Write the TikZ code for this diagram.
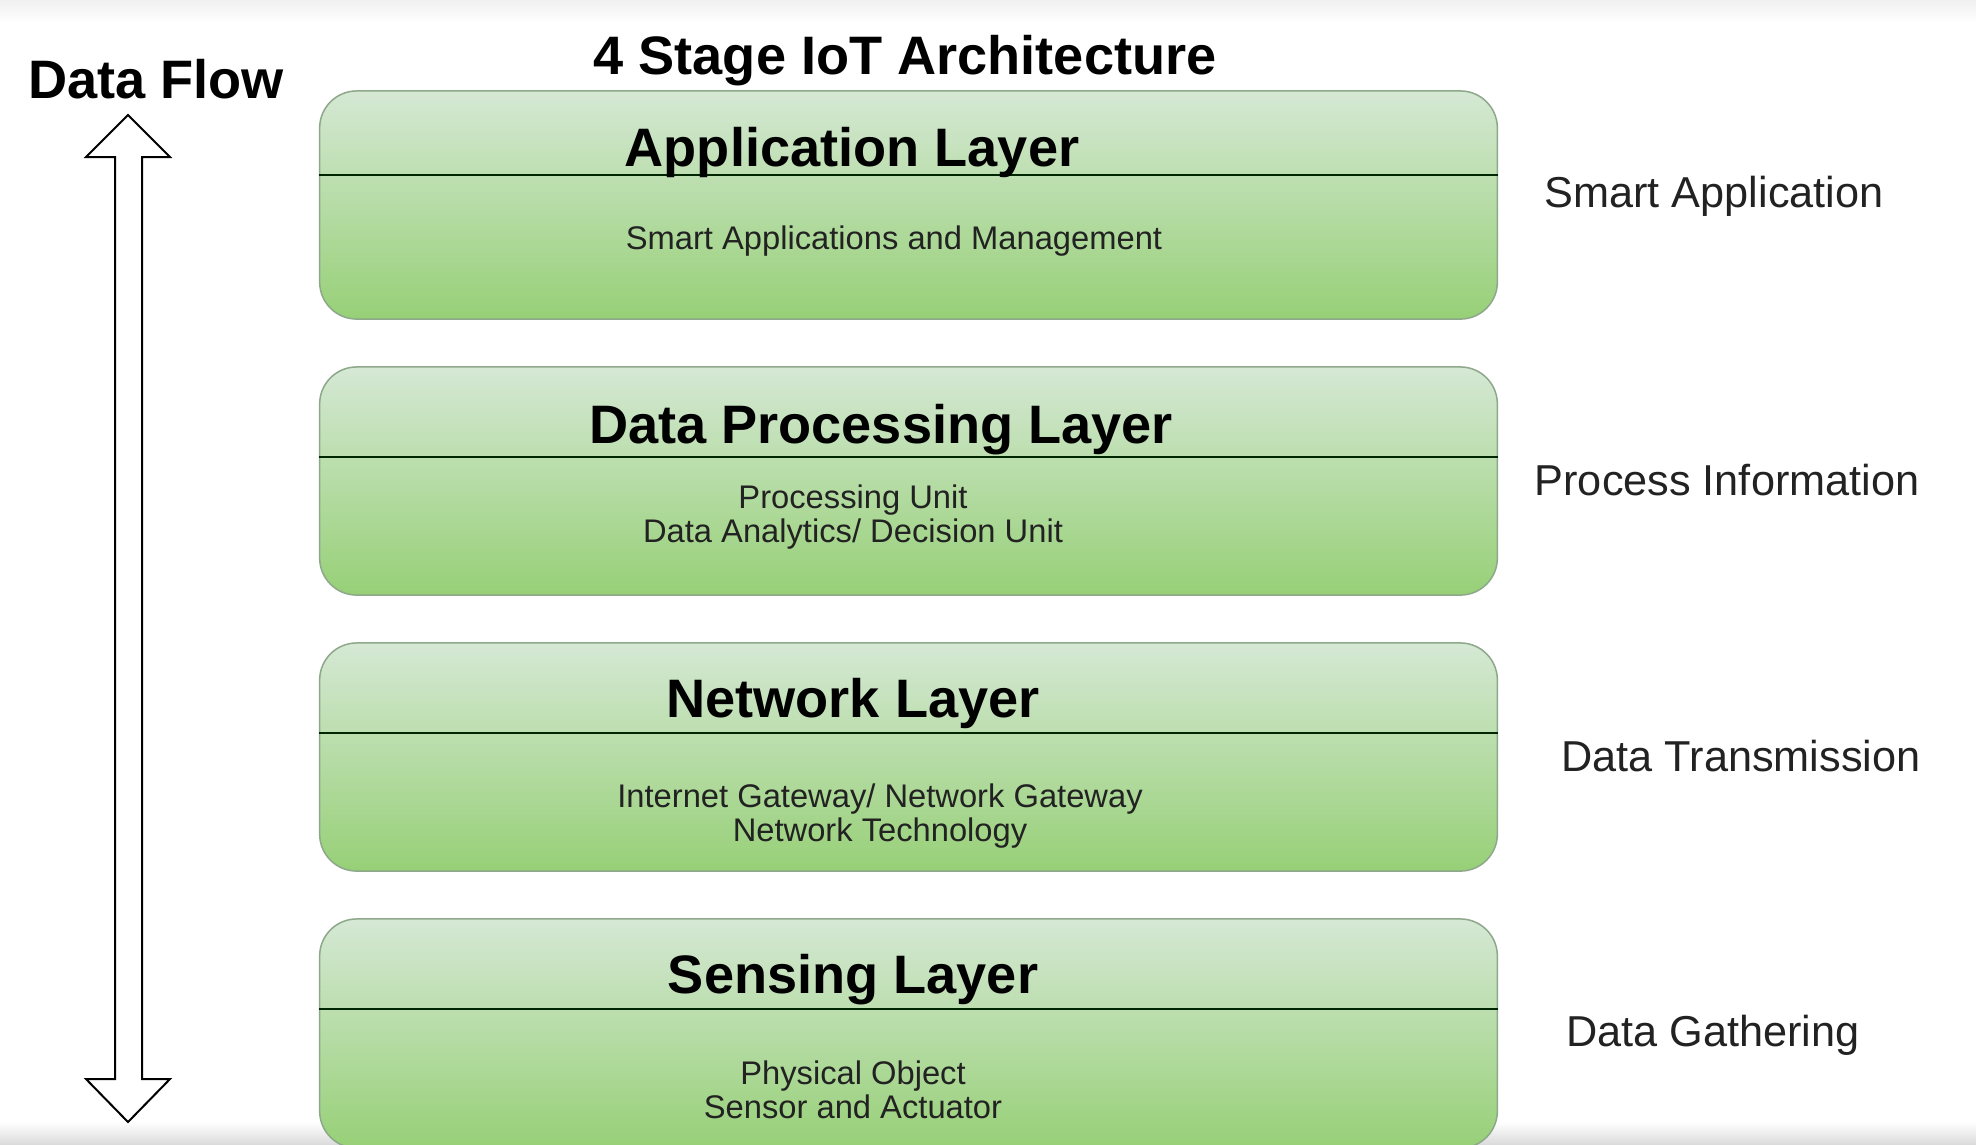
\documentclass[tikz,border=0pt]{standalone}
\usepackage{fontspec}
\setmainfont{Liberation Sans}
\definecolor{layertop}{HTML}{D5E8D4}
\definecolor{layerbot}{HTML}{97D077}
\definecolor{layerline}{HTML}{8DA88A}
\definecolor{labeltext}{HTML}{222222}
\tikzset{
    layerbox/.style={rectangle, rounded corners=0.37cm, draw=layerline, line width=0.015cm,
        top color=layertop, bottom color=layerbot, minimum width=11.77cm, minimum height=2.28cm, inner sep=0pt},
    layername/.style={anchor=base, font=\fontsize{15.4}{18}\selectfont\bfseries},
    layertext/.style={align=center, text=labeltext, font=\fontsize{9.3}{9.7}\selectfont},
    stagelabel/.style={anchor=base, text=labeltext, font=\fontsize{12.3}{14}\selectfont},
    divider/.style={line width=0.022cm, draw=black!85!green},
    flowarrow/.style={draw=black, fill=white, line width=0.02cm, line join=miter}
}
\begin{document}
\begin{tikzpicture}[x=0.01cm, y=-0.01cm]
        \useasboundingbox (0,0) rectangle (1976,1144);
        % draw the background
        \fill[white] (0,0) rectangle (1976,1144);
        \shade[top color=black!6, bottom color=white] (0,0) rectangle (1976,22);
        \shade[top color=white, bottom color=black!14] (0,1122) rectangle (1976,1144);
        % draw the titles
        \node[layername] (title) at (905,74) {4 Stage IoT Architecture};
        \node[layername] (flowlabel) at (156,98) {Data Flow};
        % draw the data flow arrow
        \draw[flowarrow] (128,115) -- (170,157) -- (142,157) -- (142,1079) -- (170,1079) -- (128,1122)
            -- (86,1079) -- (115,1079) -- (115,157) -- (86,157) -- cycle;
        % draw the layers
        \node[layerbox] (app) at (908.5,205) {};
        \node[layerbox] (proc) at (908.5,481) {};
        \node[layerbox] (net) at (908.5,757) {};
        \node[layerbox, minimum height=2.29cm] (sense) at (908.5,1033.5) {};
        \draw[divider] (app.west |- 0,175) -- (app.east |- 0,175);
        \draw[divider] (proc.west |- 0,457) -- (proc.east |- 0,457);
        \draw[divider] (net.west |- 0,733) -- (net.east |- 0,733);
        \draw[divider] (sense.west |- 0,1009) -- (sense.east |- 0,1009);
        % draw the layer names and contents
        \node[layername] (appname) at (852,166) {Application Layer};
        \node[layername] (procname) at (881,443) {Data Processing Layer};
        \node[layername] (netname) at (853,717) {Network Layer};
        \node[layername] (sensename) at (853,993) {Sensing Layer};
        \node[layertext, anchor=base] (apptext) at (894,249) {Smart Applications and Management};
        \node[layertext] (proctext) at (853,517) {Processing Unit\\Data Analytics/ Decision Unit};
        \node[layertext] (nettext) at (880,816) {Internet Gateway/ Network Gateway\\Network Technology};
        \node[layertext] (sensetext) at (853,1090) {Physical Object\\Sensor and Actuator};
        % draw the stage labels
        \node[stagelabel] (appstage) at (1714,207) {Smart Application};
        \node[stagelabel] (procstage) at (1727,495) {Process Information};
        \node[stagelabel] (netstage) at (1741,771) {Data Transmission};
        \node[stagelabel] (sensestage) at (1713,1046) {Data Gathering};
    \end{tikzpicture}
\end{document}
